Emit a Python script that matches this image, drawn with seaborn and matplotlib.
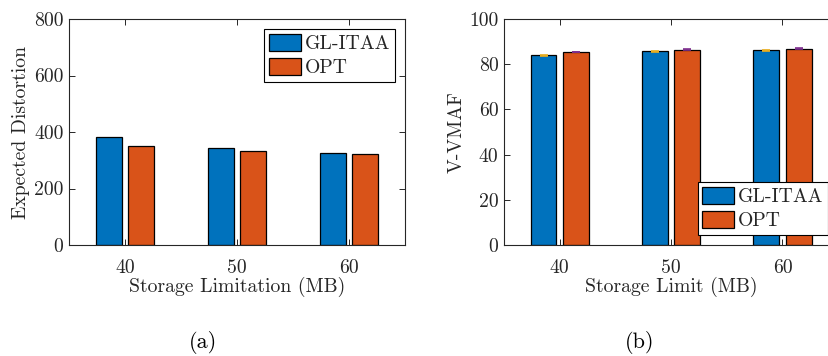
import numpy as np
import pandas as pd
import matplotlib
matplotlib.use("Agg")
import matplotlib.pyplot as plt
import seaborn as sns

# Storage budgets (MB)
storage_mb = [40, 50, 60]
methods = ["GL-ITAA", "OPT"]

# Expected distortion per storage budget
distortion_glitaa = [381, 343, 327]
distortion_opt = [351, 333, 321]

# V-VMAF per storage budget, with spread
vmaf_glitaa = [83.9, 85.7, 86.1]
vmaf_opt = [85.4, 86.4, 86.9]
vmaf_err_glitaa = [0.25, 0.25, 0.2]
vmaf_err_opt = [0.2, 0.2, 0.2]

sns.set_theme(style="ticks")
plt.rcParams["font.family"] = ["cmr10", "DejaVu Serif"]
plt.rcParams["axes.formatter.use_mathtext"] = True
plt.rcParams["axes.unicode_minus"] = False

BLUE = "#0072BD"
ORANGE = "#D95319"
INK = "#262626"
FS = 14.2

df_a = pd.DataFrame({
    "storage": storage_mb * 2,
    "value": distortion_glitaa + distortion_opt,
    "method": [methods[0]] * 3 + [methods[1]] * 3,
})
df_b = pd.DataFrame({
    "storage": storage_mb * 2,
    "value": vmaf_glitaa + vmaf_opt,
    "method": [methods[0]] * 3 + [methods[1]] * 3,
})

fig = plt.figure(figsize=(8.29, 3.56), dpi=100)
ax_a = fig.add_axes([0.0832, 0.3118, 0.4053, 0.6348])
ax_b = fig.add_axes([0.6080, 0.3118, 0.4030, 0.6348])

palette = {methods[0]: BLUE, methods[1]: ORANGE}


def draw(ax, df, ylim, yticks, xlabel, ylabel, legend_loc):
    sns.barplot(data=df, x="storage", y="value", hue="method", hue_order=methods,
                palette=palette, native_scale=True, width=0.58, gap=0.2,
                edgecolor="black", linewidth=0.9, saturation=1, errorbar=None, ax=ax)
    ax.set_xlim(35, 65)
    ax.set_ylim(*ylim)
    ax.set_xticks(storage_mb)
    ax.set_xticklabels([str(s) for s in storage_mb])
    ax.set_yticks(yticks)
    ax.set_yticklabels([str(t) for t in yticks])
    ax.tick_params(direction="in", length=4, width=0.7, colors=INK, labelsize=FS,
                   top=True, right=True)
    ax.tick_params(axis="x", pad=10)
    ax.tick_params(axis="y", pad=4)
    for s in ax.spines.values():
        s.set_color(INK)
        s.set_linewidth(0.8)
        s.set_visible(True)
    ax.set_xlabel(xlabel, fontsize=FS, color=INK, labelpad=0)
    ax.set_ylabel(ylabel, fontsize=FS, color=INK, labelpad=2.5)
    leg = ax.legend(loc=legend_loc, fontsize=FS, frameon=True, fancybox=False,
                    edgecolor="black", framealpha=1, handlelength=1.6,
                    handleheight=0.95, handletextpad=0.2, labelspacing=0.25,
                    borderpad=0.25, borderaxespad=0.5)
    leg.get_frame().set_linewidth(0.8)
    for t in leg.get_texts():
        t.set_color(INK)


draw(ax_a, df_a, (0, 800), [0, 200, 400, 600, 800],
     "Storage Limitation (MB)", "Expected Distortion", "upper right")
draw(ax_b, df_b, (0, 100), [0, 20, 40, 60, 80, 100],
     "Storage Limit (MB)", "V-VMAF", "lower right")

# small spread markers on top of the V-VMAF bars
bars = [p for p in ax_b.patches if p.get_height() > 0]
bars_sorted = sorted(bars, key=lambda p: p.get_x())
centers = [p.get_x() + p.get_width() / 2 for p in bars_sorted]
gl_x = centers[0::2]
opt_x = centers[1::2]
ax_b.errorbar(gl_x, vmaf_glitaa, yerr=vmaf_err_glitaa, fmt="none",
              ecolor="#EDB120", elinewidth=1.2, capsize=3, capthick=1.2, zorder=5)
ax_b.errorbar(opt_x, vmaf_opt, yerr=vmaf_err_opt, fmt="none",
              ecolor="#7E2F8E", elinewidth=1.2, capsize=3, capthick=1.2, zorder=5)

fig.text(0.245, 1 - 343 / 356, "(a)", fontsize=16, ha="center", va="center", color="black")
fig.text(0.772, 1 - 343 / 356, "(b)", fontsize=16, ha="center", va="center", color="black")

fig.savefig("out.png", dpi=100)
